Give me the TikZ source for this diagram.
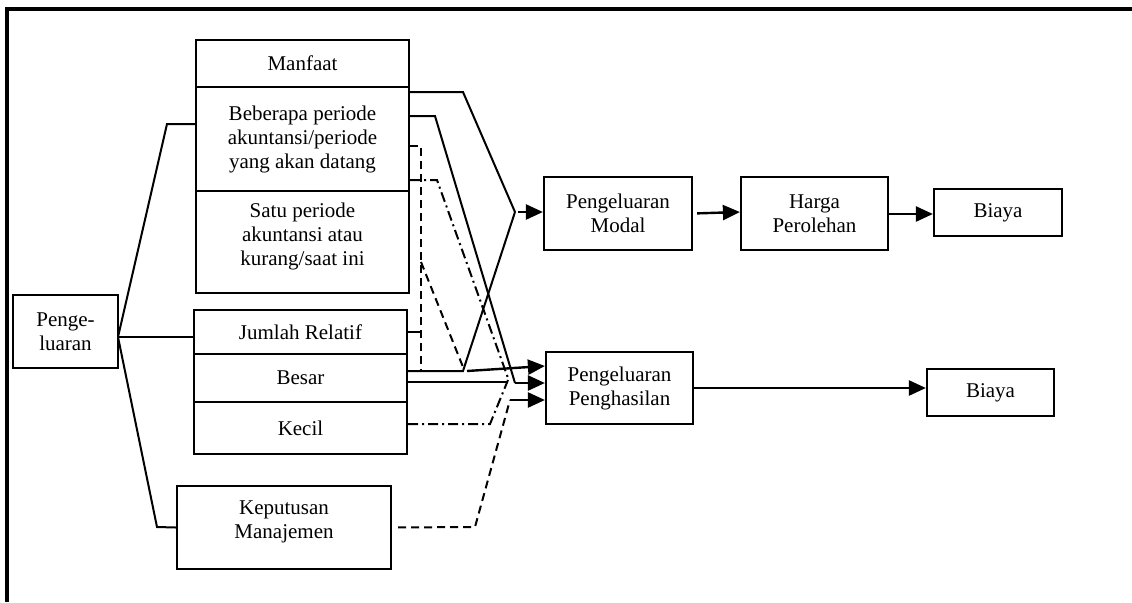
\documentclass[tikz,border=0pt]{standalone}
\usepackage{fontspec}
\setmainfont{Liberation Serif}
\usetikzlibrary{arrows.meta, calc}
\tikzset{
  every picture/.style={line width=1pt},
  box/.style={draw, line width=1.1pt, align=center, inner sep=2pt, font=\fontsize{10.5}{12}\selectfont},
  arrow/.style={-{Triangle[length=8.5pt, width=7.5pt]}, line width=1.2pt},
  dlink/.style={dash pattern=on 4pt off 2.5pt},
  ddlink/.style={dash pattern=on 5pt off 2pt on 1pt off 2pt},
}

\begin{document}
\begin{tikzpicture}[x=0.5pt, y=-0.5pt]
  \useasboundingbox (0,0) rectangle (1132,602);
  \draw[line width=1.6pt] (7,602) -- (7,9) -- (1132,9);
  % left side
  \node[box, minimum width=52.5pt, minimum height=36.5pt] (pengel) at (65.5,331.5) {Penge-\\luaran};
  \node[box, minimum width=106.5pt, minimum height=23.5pt] (manfaat) at (302.5,63.5) {Manfaat};
  \node[box, minimum width=106.5pt, minimum height=52pt] (beberapa) at (302.5,139) {Beberapa periode\\akuntansi/periode\\yang akan datang};
  \node[box, minimum width=106.5pt, minimum height=51pt, text depth=7.5pt] (satu) at (302.5,242) {Satu periode\\akuntansi atau\\kurang/saat ini};
  \node[box, minimum width=106.5pt, minimum height=22pt] (jumlah) at (300.5,332) {Jumlah Relatif};
  \node[box, minimum width=106.5pt, minimum height=24pt] (besar) at (300.5,378) {Besar};
  \node[box, minimum width=106.5pt, minimum height=26pt] (kecil) at (300.5,428) {Kecil};
  \node[box, minimum width=107pt, minimum height=41.5pt, text depth=7.5pt] (keput) at (284,527.5) {Keputusan\\Manajemen};
  % right side
  \node[box, minimum width=74pt, minimum height=36.5pt] (modal) at (618,213.5) {Pengeluaran\\Modal};
  \node[box, minimum width=73.5pt, minimum height=36.5pt] (harga) at (814.5,213.5) {Harga\\Perolehan};
  \node[box, minimum width=64pt, minimum height=23.5pt] (biaya1) at (998,212.5) {Biaya};
  \node[box, minimum width=73.5pt, minimum height=36pt] (hasil) at (619.5,388) {Pengeluaran\\Penghasilan};
  \node[box, minimum width=63.5pt, minimum height=23.5pt] (biaya2) at (990.5,392.5) {Biaya};

  \coordinate (pj) at (118,337);
  \coordinate (chev) at (515,212);
  % from Pengeluaran to the three groups
  \draw (pj) -- (167,124) -- (beberapa.west |- 0,124);
  \draw (pj) -- (jumlah.west |- pj);
  \draw (pj) -- (157,527) -- (keput.west);
  % into Pengeluaran Modal
  \draw (beberapa.east |- 0,92) -- (463,92) -- (chev);
  \draw (besar.east |- 0,371) -- (463,371) -- (chev);
  \draw[arrow, shorten <=1.5pt] (chev) -- (modal.west |- chev);
  % into Pengeluaran Penghasilan
  \draw[dlink] (beberapa.east |- 0,146) -- (421,146) -- (421,371);
  \draw (jumlah.east) -- (421,332);
  \draw[dlink] (421,262) -- (463,367);
  \draw[arrow] (467,371) -- (hasil.west |- 0,366);
  \draw (beberapa.east |- 0,116) -- (435,116) -- (515,383);
  \draw[arrow] (515,383) -- (hasil.west |- 0,383);
  \draw (besar.east |- 0,382) -- (508,382);
  \draw[ddlink] (beberapa.east |- 0,180) -- (437,180) -- (508,378);
  \draw[ddlink] (kecil.east |- 0,424) -- (490,424) -- (508,380);
  \draw[dlink, shorten <=3pt] (keput.east) -- (475,527) -- (510,400);
  \draw[arrow] (510,400) -- (hasil.west |- 0,400);
  % to Biaya
  \draw[arrow, shorten <=2pt] (modal.east) -- (harga.west |- 0,212);
  \draw[arrow] (harga.east |- 0,214) -- (biaya1.west |- 0,214);
  \draw[arrow] (hasil.east) -- (hasil.east -| biaya2.west);
\end{tikzpicture}
\end{document}
